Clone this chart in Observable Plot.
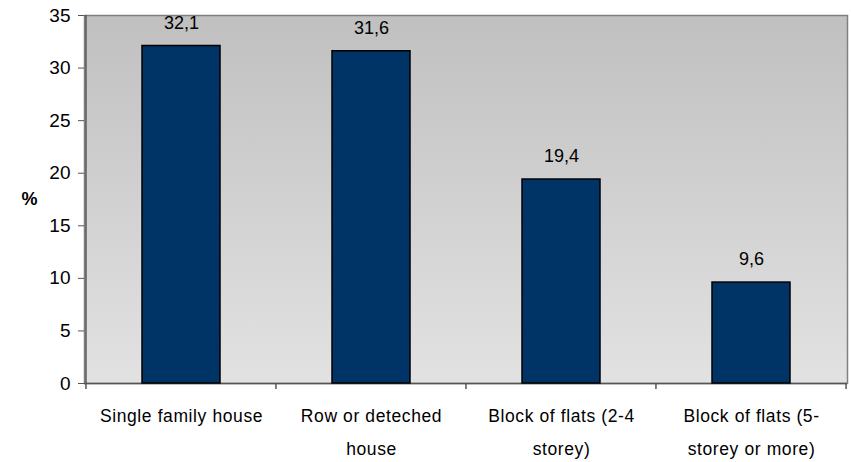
<!DOCTYPE html>
<html>
<head>
<meta charset="utf-8">
<script src="https://cdn.jsdelivr.net/npm/d3@7"></script>
<script src="https://cdn.jsdelivr.net/npm/@observablehq/plot@0.6"></script>
<style>
  body { margin: 0; background: #fff; }
  svg { font-family: "Liberation Sans", Arial, sans-serif; }
</style>
</head>
<body>
<div id="chart"></div>
<script>
const categories = ["Single family house", "Row or deteched house", "Block of flats (2-4 storey)", "Block of flats (5-storey or more)"];
const tickLabels = ["Single family house", "Row or deteched\nhouse", "Block of flats (2-4\nstorey)", "Block of flats (5-\nstorey or more)"];
const values = [32.1, 31.6, 19.4, 9.6];
const yTicks = [0, 5, 10, 15, 20, 25, 30, 35];

const data = categories.map((c, i) => ({category: c, value: values[i], label: tickLabels[i]}));
const fmt = v => String(v).replace(".", ",");

const plot = Plot.plot({
  width: 851,
  height: 462,
  marginLeft: 84,
  marginRight: 4,
  marginTop: 15,
  marginBottom: 79,
  style: {fontFamily: "'Liberation Sans', Arial, sans-serif", background: "white", color: "black"},
  x: {domain: categories, paddingInner: 0.59, paddingOuter: 0.295},
  y: {domain: [0, 35]},
  marks: [
    Plot.frame({fill: "url(#bgGrad)", stroke: "#808080", strokeWidth: 1.5}),
    Plot.ruleY([0], {stroke: "#555", strokeWidth: 1.5}),
    Plot.barY(data, {x: "category", y: "value", fill: "#003366", stroke: "black", strokeWidth: 1.5}),
    Plot.text(data, {x: "category", y: "value", text: d => fmt(d.value), dy: -23, fontSize: 18, fill: "black"}),
    Plot.axisY({ticks: yTicks, tickSize: 6, tickPadding: 8, fontSize: 19, label: null, stroke: "#555"}),
    Plot.axisX({tickSize: 0, tickPadding: 15, fontSize: 17.5, lineHeight: 1.88, tickFormat: c => tickLabels[categories.indexOf(c)], label: null}),
    Plot.text(["%"], {frameAnchor: "left", textAnchor: "middle", dx: -55, fontSize: 18, fontWeight: "bold", fill: "black"})
  ]
});

const svg = d3.select(plot);
svg.selectAll('[aria-label="x-axis tick label"] text').style("letter-spacing", "0.6px");
const defs = svg.insert("defs", ":first-child");
const g = defs.append("linearGradient").attr("id", "bgGrad").attr("x1", 0).attr("y1", 0).attr("x2", 0).attr("y2", 1);
g.append("stop").attr("offset", "0%").attr("stop-color", "#c0c0c0");
g.append("stop").attr("offset", "100%").attr("stop-color", "#e2e2e2");

// left axis line and category boundary ticks through the plot's scales
const xs = plot.scale("x");
const ys = plot.scale("y");
const y0 = ys.apply(0), y35 = ys.apply(35);
const left = xs.apply(categories[0]) - xs.step * xs.paddingOuter;
const axes = svg.append("g").attr("stroke", "#555").attr("stroke-width", 1.5);
axes.append("line").attr("x1", left).attr("x2", left).attr("y1", y35).attr("y2", y0);
categories.forEach((c, i) => {
  const bx = xs.apply(c) - xs.step * xs.paddingInner / 2;
  axes.append("line").attr("x1", bx).attr("x2", bx).attr("y1", y0).attr("y2", y0 + 6);
});
const last = xs.apply(categories[categories.length - 1]) + xs.bandwidth + xs.step * xs.paddingInner / 2;
axes.append("line").attr("x1", last).attr("x2", last).attr("y1", y0).attr("y2", y0 + 6);

document.getElementById("chart").appendChild(plot);
</script>
</body>
</html>
